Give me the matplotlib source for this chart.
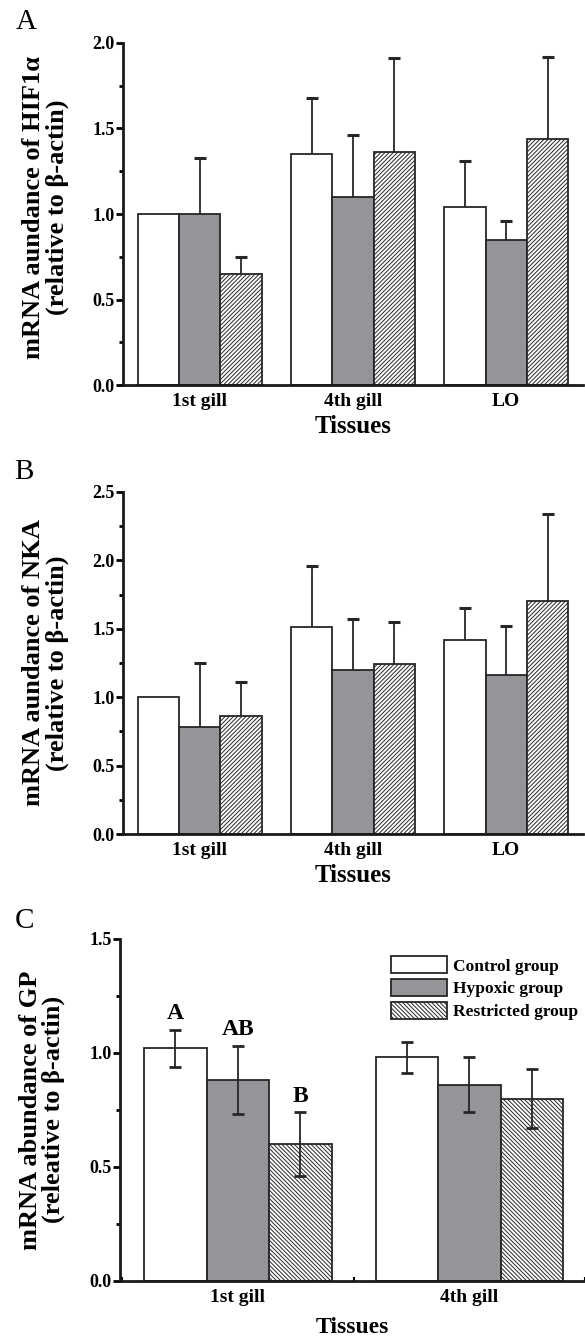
import numpy as np
import matplotlib
matplotlib.use('Agg')
import matplotlib.pyplot as plt
from matplotlib.ticker import MultipleLocator

plt.rcParams['font.family'] = ['Liberation Serif', 'DejaVu Serif']
plt.rcParams['font.weight'] = 'bold'
plt.rcParams['hatch.linewidth'] = 0.7
plt.rcParams['hatch.color'] = '#2b2b2b'

groups = ['Control group', 'Hypoxic group', 'Restricted group']

# panel A: HIF
tissues_a = ['1st gill', '4th gill', 'LO']
hif_mean = [[1.00, 1.35, 1.04],
            [1.00, 1.10, 0.85],
            [0.65, 1.36, 1.44]]
hif_err = [[0.00, 0.33, 0.27],
           [0.33, 0.36, 0.11],
           [0.10, 0.55, 0.48]]

# panel B: NKA
tissues_b = ['1st gill', '4th gill', 'LO']
nka_mean = [[1.00, 1.51, 1.42],
            [0.78, 1.20, 1.16],
            [0.86, 1.24, 1.70]]
nka_err = [[0.00, 0.45, 0.23],
           [0.47, 0.37, 0.36],
           [0.25, 0.31, 0.64]]

# panel C: GP
tissues_c = ['1st gill', '4th gill']
gp_mean = [[1.02, 0.98],
           [0.88, 0.86],
           [0.60, 0.80]]
gp_err = [[0.08, 0.07],
          [0.15, 0.12],
          [0.14, 0.13]]
gp_letters = [['A', ''], ['AB', ''], ['B', '']]

EDGE = '#262626'
GRAY = '#939598'


def draw_panel(ax, tissues, means, errs, ymax, ystep, hatch, both_sides, xlim):
    x = np.arange(1, len(tissues) + 1)
    w = 0.27
    faces = ['white', GRAY, 'white']
    hatches = [None, None, hatch]
    for i in range(3):
        xi = x + (i - 1) * w
        m = np.array(means[i])
        e = np.array(errs[i])
        ax.bar(xi, m, width=w, color=faces[i], edgecolor=EDGE,
               linewidth=1.3, hatch=hatches[i], label=groups[i], zorder=2)
        mask = e > 0
        if both_sides:
            ax.errorbar(xi[mask], m[mask], yerr=e[mask], fmt='none',
                        ecolor=EDGE, elinewidth=1.3, capsize=4, capthick=2,
                        zorder=3)
        else:
            # upper half only
            ax.vlines(xi[mask], m[mask], (m + e)[mask], color=EDGE,
                      linewidth=1.3, zorder=3)
            ax.plot(xi[mask], (m + e)[mask], ls='none', marker='_',
                    markersize=8, mew=2.2, color=EDGE, zorder=3)
    ax.set_xlim(*xlim)
    ax.set_ylim(0, ymax)
    ax.spines['top'].set_visible(False)
    ax.spines['right'].set_visible(False)
    for s in ['left', 'bottom']:
        ax.spines[s].set_linewidth(2)
        ax.spines[s].set_color('#1a1a1a')
    ax.set_xticks(x)
    ax.set_xticklabels(tissues, fontsize=14, fontweight='bold')
    ax.yaxis.set_major_locator(MultipleLocator(ystep))
    ax.yaxis.set_minor_locator(MultipleLocator(ystep / 2))
    ax.yaxis.set_major_formatter('{x:.1f}')
    ax.tick_params(axis='y', which='major', direction='out', length=5,
                   width=2, labelsize=13, pad=1)
    ax.tick_params(axis='y', which='minor', direction='out', length=3, width=2)
    ax.tick_params(axis='x', which='major', direction='in', length=4,
                   width=1.5, pad=6)
    ax.set_xlabel('Tissues', fontsize=18, fontweight='bold', labelpad=3)
    return x, w


fig = plt.figure(figsize=(5.85, 13.43), dpi=100)

ax_a = fig.add_axes([0.2103, 0.7133, 0.786, 0.2547])
draw_panel(ax_a, tissues_a, hif_mean, hif_err, 2.0, 0.5, '////////', False, (0.5, 3.5))
ax_a.set_ylabel('mRNA aundance of HIF1\u03b1\n(relative to \u03b2-actin)',
                fontsize=19, fontweight='bold', linespacing=1.0)
ax_a.yaxis.set_label_coords(-0.118, 0.52)

ax_b = fig.add_axes([0.2103, 0.379, 0.786, 0.2547])
draw_panel(ax_b, tissues_b, nka_mean, nka_err, 2.5, 0.5, '////////', False, (0.5, 3.5))
ax_b.set_ylabel('mRNA aundance of NKA\n(relative to \u03b2-actin)',
                fontsize=19, fontweight='bold', linespacing=1.0)
ax_b.yaxis.set_label_coords(-0.118, 0.5)

ax_c = fig.add_axes([0.205, 0.0462, 0.795, 0.2547])
xc, wc = draw_panel(ax_c, tissues_c, gp_mean, gp_err, 1.5, 0.5, '\\\\\\\\\\\\\\\\', True, (0.49, 2.5))
ax_c.xaxis.set_minor_locator(MultipleLocator(0.25))
ax_c.tick_params(axis='x', which='minor', direction='in', length=3, width=1.5)
ax_c.set_ylabel('mRNA abundance of GP\n(releative to \u03b2-actin)',
                fontsize=19, fontweight='bold', linespacing=1.0)
ax_c.yaxis.set_label_coords(-0.118, 0.5)
ax_c.xaxis.label.set_fontsize(17)
ax_c.xaxis.labelpad = 8
for i in range(3):
    for j in range(len(tissues_c)):
        if gp_letters[i][j]:
            ax_c.text(xc[j] + (i - 1) * wc, gp_mean[i][j] + gp_err[i][j] + 0.025,
                      gp_letters[i][j], ha='center', va='bottom',
                      fontsize=17, fontweight='bold')
ax_c.legend(loc='upper right', bbox_to_anchor=(1.0, 0.97), frameon=False,
            fontsize=12.5, handlelength=3.2, handleheight=1.15,
            handletextpad=0.35, labelspacing=0.25, borderaxespad=0)

for lab, (px, py) in zip(['A', 'B', 'C'], [(26, 22), (24, 472), (25, 921)]):
    fig.text(px / 585, 1 - py / 1343, lab, fontsize=21, fontweight='normal',
             ha='center', va='center')

fig.savefig('out.png', dpi=100)
